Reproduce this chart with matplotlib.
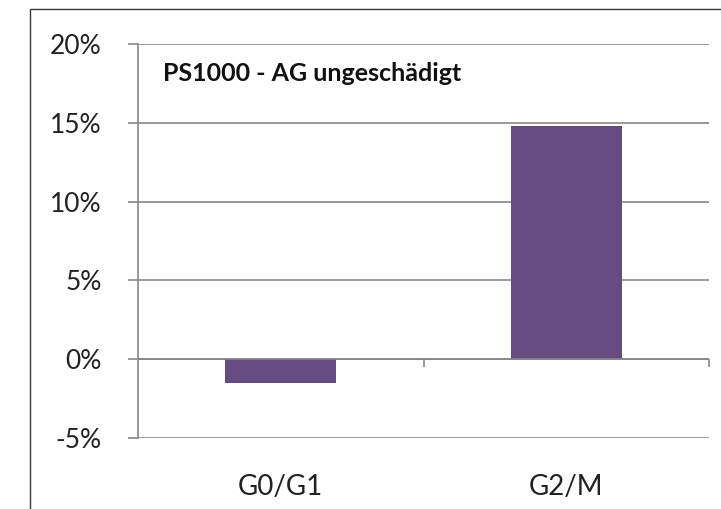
import numpy as np
import matplotlib.pyplot as plt
from matplotlib.patches import Rectangle
from matplotlib.ticker import FuncFormatter
import matplotlib.transforms as mtransforms

# Daten
categories = ['G0/G1', 'G2/M']
values = [-1.5, 14.8]  # Prozent
title_text = 'PS1000 - AG ungeschädigt'
yticks = [-5, 0, 5, 10, 15, 20]

bar_color = '#654b80'
grid_color = '#878787'

plt.rcParams['font.family'] = ['Lato', 'DejaVu Sans']

fig = plt.figure(figsize=(7.21, 5.09), dpi=100)

# Rahmen um das Diagramm (rechts/unten abgeschnitten)
frame = Rectangle((30 / 721, -0.5), 1.2, 0.5 + (509 - 9) / 509,
                  transform=fig.transFigure, fill=False,
                  edgecolor='#3a3a3a', linewidth=1.0)
fig.patches.append(frame)

ax = fig.add_axes([138 / 721, (509 - 438) / 509, (709 - 138) / 721, (438 - 44) / 509])

x = np.arange(len(categories))
ax.bar(x, values, width=0.39, color=bar_color, zorder=3)

ax.set_xlim(-0.5, len(categories) - 0.5)
ax.set_ylim(yticks[0], yticks[-1])
ax.set_yticks(yticks)
ax.yaxis.set_major_formatter(FuncFormatter(lambda v, p: f'{v:.0f}%'))
ax.yaxis.grid(True, color=grid_color, linewidth=1.2, zorder=1)

for s in ['top', 'right', 'bottom']:
    ax.spines[s].set_visible(False)
ax.spines['left'].set_color(grid_color)
ax.spines['left'].set_linewidth(1.2)
ax.spines['left'].set_zorder(2)

ax.tick_params(axis='y', direction='out', length=7, width=1.2, color=grid_color,
               pad=19, labelsize=19, labelcolor='#222222')

# Nulllinie mit Kategoriegrenzen
ax.axhline(0, color=grid_color, linewidth=1.2, zorder=4)
ax.set_xticks(x + 0.5)
ax.tick_params(axis='x', length=0, labelbottom=False)
for b in x + 0.5:
    ax.plot([b, b], [0, -0.5], color=grid_color, linewidth=1.2,
            zorder=4, clip_on=False, solid_capstyle='butt')

# Kategorienbeschriftungen
trans = mtransforms.blended_transform_factory(ax.transData, ax.transAxes)
for xi, lab in zip(x, categories):
    ax.text(xi, -0.125, lab, transform=trans, ha='center', va='center',
            fontsize=20, color='#222222')

ax.text(0.044, 0.925, title_text, transform=ax.transAxes, ha='left', va='center',
        fontsize=18, fontweight='bold', color='#111111')

fig.savefig('out.png', dpi=100)
